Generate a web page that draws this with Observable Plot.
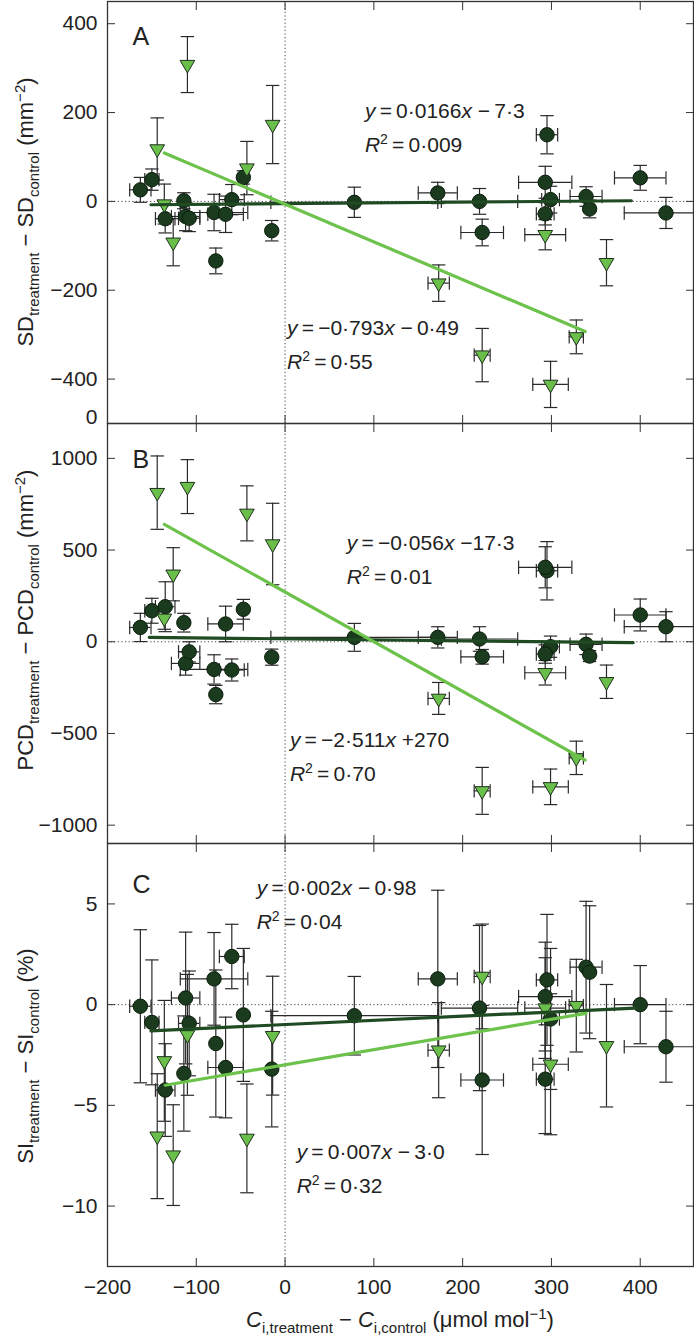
<!DOCTYPE html>
<html><head><meta charset="utf-8">
<script src="https://cdn.jsdelivr.net/npm/d3@7"></script>
<script src="https://cdn.jsdelivr.net/npm/@observablehq/plot@0.6"></script>
<style>
body{margin:0;background:#fff;}
#chart{position:relative;width:694px;height:1339px;font-family:"Liberation Sans",Arial,sans-serif;}
#chart svg{position:absolute;left:0;overflow:visible;}
#chart text{white-space:pre;}
</style></head><body><div id="chart"></div>
<script>
// ---------- data ----------
// dark circles: x (Ci difference) and its error
const darkX  = [-163,-150,-135,-114,-112,-108,-80,-78,-67,-60,-47,-15,78,172,219,222,295,293,299,293,339,343,400,429];
const darkEx = [12,8,11,0,16,12,38,0,20,14,0,0,94,22,43,24,12,30,10,10,18,0,29,47];
// panel A (SD)
const darkA   = [26,49,-39,1.5,-34,-38,-25,-134,-29,4,54,-66,-2,19,0,-70,150,43,4,-28,11,-17,53,-26];
const darkEyA = [28,24,32,18,32,30,41,29,41,34,15,23,34,24,29,30,43,36,30,25,22,20,28,35];
// panel B (PCD)
const darkB   = [78,169,191,104,-118,-55,-151,-288,97,-154,177,-84,24,24,15,-82,387,406,-27,-67,-14,-78,146,82];
const darkEyB = [77,68,136,51,64,55,80,50,97,60,54,44,76,58,67,40,159,112,58,50,56,30,87,82];
// panel C (SI)
const darkC   = [-0.08,-0.88,-4.24,-3.42,0.33,-0.93,1.28,-1.93,-3.12,2.39,-0.51,-3.2,-0.55,1.28,-0.17,-3.74,1.23,0.4,-0.71,-3.7,1.86,1.61,0,-2.09];
const darkEyC = [3.8,3.1,2.3,2.86,3.27,2.6,2.3,3.65,2.5,1.6,3.3,2.87,1.95,4.4,4.1,3.7,3.25,2.7,3.5,2.7,3.27,3.3,1.94,1.76];

// light triangles
const lightX  = [-144,-136,-126,-110,-43,-14,173,222,293,299,328,362];
const lightEx = [0,0,0,0,0,0,12,9,23,20,8,0];
const lightA   = [118,-6,-92,308,75,173,-184,-346,-75,-412,-305,-138];
const lightEyA = [70,45,53,63,60,88,41,60,34,52,38,52];
const lightB   = [813,128,368,846,700,533,-309,-813,-169,-791,-633,-218];
const lightEyB = [200,60,145,147,150,222,87,128,67,97,91,91];
const lightC   = [-6.53,-2.79,-7.47,-1.5,-6.64,-1.54,-2.26,1.4,-0.17,-2.96,-0.05,-2.04];
const lightEyC = [3.1,3.0,2.5,3.0,2.7,2.95,2.36,2.6,2.5,3.5,2.3,3.04];

// regression lines (end points as drawn)
const fitDarkA  = [[-151,-7.5],[390,1.5]];
const fitLightA = [[-136,109],[338,-293]];
const fitDarkB  = [[-153,24],[392,-5]];
const fitLightB = [[-136,640],[338,-645]];
const fitDarkC  = [[-151,-1.3],[394,-0.17]];
const fitLightC = [[-135,-4.0],[339,-0.43]];

// equations
const eqA = [["y\u2009=\u20090·0166x −\u20097·3","R²\u2009=\u20090·009"],["y\u2009=\u2009−0·793x −\u20090·49","R²\u2009=\u20090·55"]];
const eqB = [["y\u2009=\u2009−0·056x −17·3","R²\u2009=\u20090·01"],["y\u2009=\u2009−2·511x +270","R²\u2009=\u20090·70"]];
const eqC = [["y\u2009=\u20090·002x −\u20090·98","R²\u2009=\u20090·04"],["y\u2009=\u20090·007x −\u20093·0","R²\u2009=\u20090·32"]];

// ticks
const ticksX = [-200,-100,0,100,200,300,400];
const ticksA = [-400,-200,0,200,400];
const ticksB = [-1000,-500,0,500,1000];
const ticksC = [-10,-5,0,5];

// ---------- drawing ----------
const FONT = "Liberation Sans, Arial, sans-serif";
const INK = "#2a2a2a";
const DARK_FILL = "#1a3b1d", DARK_LINE = "#1f4a22";
const LIGHT_FILL = "#6abf4b", LIGHT_LINE = "#6cc24a";
const fmt = d => (d < 0 ? "\u2212" + Math.abs(d) : String(d));

const hCap = {draw(ctx, size){ const r = Math.sqrt(size/Math.PI); ctx.moveTo(-r,0); ctx.lineTo(r,0); }};
const vCap = {draw(ctx, size){ const r = Math.sqrt(size/Math.PI); ctx.moveTo(0,-r); ctx.lineTo(0,r); }};
const downTri = {draw(ctx, size){ const r = Math.sqrt(size/Math.PI); const w = r*1.05, h = r*1.8;
  ctx.moveTo(-w,-h/3); ctx.lineTo(w,-h/3); ctx.lineTo(0,2*h/3); ctx.closePath(); }};

function errMarks(X, EX, Y, EY) {
  const idx = d3.range(X.length);
  const hidx = idx.filter(i => EX[i] > 0);
  const s = {stroke: INK, strokeWidth: 1.2};
  return [
    Plot.ruleX(idx, {x: i=>X[i], y1: i=>Y[i]-EY[i], y2: i=>Y[i]+EY[i], ...s}),
    Plot.dot(idx, {x: i=>X[i], y: i=>Y[i]+EY[i], symbol: hCap, r: 6.7, fill: "none", ...s}),
    Plot.dot(idx, {x: i=>X[i], y: i=>Y[i]-EY[i], symbol: hCap, r: 6.7, fill: "none", ...s}),
    Plot.ruleY(hidx, {y: i=>Y[i], x1: i=>X[i]-EX[i], x2: i=>X[i]+EX[i], clip: true, ...s}),
    Plot.dot(hidx, {x: i=>X[i]-EX[i], y: i=>Y[i], symbol: vCap, r: 6.7, fill: "none", clip: true, ...s}),
    Plot.dot(hidx, {x: i=>X[i]+EX[i], y: i=>Y[i], symbol: vCap, r: 6.7, fill: "none", clip: true, ...s})
  ];
}

function panel(cfg) {
  const idxD = d3.range(darkX.length), idxL = d3.range(lightX.length);
  const marks = [
    Plot.ruleX([0], {stroke: "#444", strokeWidth: 1, strokeDasharray: "1.2,2.4"}),
    Plot.ruleY([0], {stroke: "#444", strokeWidth: 1, strokeDasharray: "1.2,2.4"}),
    ...errMarks(darkX, darkEx, cfg.dY, cfg.dEy),
    ...errMarks(lightX, lightEx, cfg.lY, cfg.lEy),
    Plot.dot(idxD, {x: i=>darkX[i], y: i=>cfg.dY[i], r: 7.2, fill: DARK_FILL, stroke: "#0c1c0d", strokeWidth: 1}),
    Plot.dot(idxL, {x: i=>lightX[i], y: i=>cfg.lY[i], symbol: downTri, r: 7, fill: LIGHT_FILL, stroke: "#203020", strokeWidth: 1}),
    Plot.line(cfg.fitD, {x: d=>d[0], y: d=>d[1], stroke: DARK_LINE, strokeWidth: 3.2}),
    Plot.line(cfg.fitL, {x: d=>d[0], y: d=>d[1], stroke: LIGHT_LINE, strokeWidth: 3.2}),
    Plot.frame({stroke: "#333", strokeWidth: 1.3}),
    Plot.axisY({ticks: cfg.ticks, anchor: "left", tickSize: -8, tickPadding: 18, tickFormat: fmt, label: null, fontSize: 21, stroke: "#333", fill: "#222"}),
    Plot.axisY({ticks: cfg.ticks, anchor: "right", tickSize: -8, fill: "none", label: null, stroke: "#333"}),
    Plot.axisX({ticks: ticksX, anchor: "top", tickSize: -8, fill: "none", label: null, stroke: "#333"}),
    cfg.showX
      ? Plot.axisX({ticks: ticksX, anchor: "bottom", tickSize: -8, tickPadding: 21, tickFormat: fmt, label: null, fontSize: 21, stroke: "#333", fill: "#222"})
      : Plot.axisX({ticks: ticksX, anchor: "bottom", tickSize: -8, fill: "none", label: null, stroke: "#333"}),
    Plot.text([cfg.letter], {frameAnchor: "top-left", dx: 25, dy: cfg.letterDy, lineAnchor: "top", textAnchor: "start", fontSize: 25, fill: "#222"})
  ];
  if (cfg.extra) marks.push(cfg.extra);
  const svg = Plot.plot({
    width: 694, height: cfg.height,
    marginLeft: 107, marginRight: 1, marginTop: 1, marginBottom: cfg.mb,
    x: {domain: [-200, 460]},
    y: {domain: cfg.domain},
    style: {fontFamily: FONT, fontSize: "21px", color: "#222", background: "transparent", overflow: "visible"},
    marks
  });
  svg.style.top = cfg.top + "px";
  return svg;
}

function rich(parent, segs, x, y, opt) {
  const t = parent.append("text")
    .attr("x", x).attr("y", y)
    .attr("font-family", FONT).attr("font-size", opt.size).attr("fill", "#222")
    .attr("text-anchor", opt.anchor || "start");
  if (opt.transform) t.attr("transform", opt.transform);
  let shift = 0;
  for (const s of segs) {
    const target = s.sub ? opt.subShift : s.sup ? -opt.supShift : 0;
    const ts = t.append("tspan").text(s.t).attr("dy", target - shift);
    shift = target;
    if (s.sub || s.sup) ts.attr("font-size", opt.small);
    if (s.it) ts.attr("font-style", "italic");
  }
  return t;
}

function eqSegs(str) {
  const segs = [];
  for (const c of str) {
    if (c === "x" || c === "y" || c === "R") segs.push({t: c, it: true});
    else if (c === "²") segs.push({t: "2", sup: true});
    else if (segs.length && !segs[segs.length-1].it && !segs[segs.length-1].sup) segs[segs.length-1].t += c;
    else segs.push({t: c});
  }
  return segs;
}

function addEq(svg, lines, xv, yv) {
  const sx = svg.scale("x"), sy = svg.scale("y");
  const g = d3.select(svg);
  const px = sx.apply(xv), py = sy.apply(yv);
  lines.forEach((ln, k) => rich(g, eqSegs(ln), px, py + k*34, {size: 21, small: 14, supShift: 8, subShift: 5}));
}

const chart = document.getElementById("chart");

const svgA = panel({top: 0, height: 424, mb: 1, domain: [-500, 450], ticks: ticksA,
  dY: darkA, dEy: darkEyA, lY: lightA, lEy: lightEyA, fitD: fitDarkA, fitL: fitLightA,
  letter: "A", letterDy: 26,
  extra: Plot.text(["0"], {frameAnchor: "bottom-left", dx: -10, textAnchor: "end", fontSize: 21, fill: "#222"})});
const svgB = panel({top: 422, height: 422, mb: 1, domain: [-1100, 1190], ticks: ticksB,
  dY: darkB, dEy: darkEyB, lY: lightB, lEy: lightEyB, fitD: fitDarkB, fitL: fitLightB,
  letter: "B", letterDy: 27});
const svgC = panel({top: 842, height: 497, mb: 73, domain: [-13, 8], ticks: ticksC,
  dY: darkC, dEy: darkEyC, lY: lightC, lEy: lightEyC, fitD: fitDarkC, fitL: fitLightC,
  letter: "C", letterDy: 32, showX: true});
chart.append(svgA, svgB, svgC);

// equations (anchored in data coordinates)
addEq(svgA, eqA[0], 90.5, 187);
addEq(svgA, eqA[1], 2.7, -302);
addEq(svgB, eqB[0], 70, 498);
addEq(svgB, eqB[1], 6, -575);
addEq(svgC, eqC[0], -31.4, 5.41);
addEq(svgC, eqC[1], 13.6, -7.67);

// y-axis titles
const labOpt = {size: 22, small: 15, subShift: 6, supShift: 8, anchor: "middle"};
function ylab(svg, segs, cy) {
  rich(d3.select(svg), segs, 0, 0, {...labOpt, transform: `translate(33,${cy}) rotate(-90)`});
}
ylab(svgA, [{t:"SD"},{t:"treatment",sub:true},{t:" \u2212 SD"},{t:"control",sub:true},{t:" (mm"},{t:"\u22122",sup:true},{t:")"}], 212);
ylab(svgB, [{t:"PCD"},{t:"treatment",sub:true},{t:" \u2212 PCD"},{t:"control",sub:true},{t:" (mm"},{t:"\u22122",sup:true},{t:")"}], 198);
ylab(svgC, [{t:"SI"},{t:"treatment",sub:true},{t:" \u2212 SI"},{t:"control",sub:true},{t:" (%)"}], 214);

// x-axis title
rich(d3.select(svgC), [{t:"C",it:true},{t:"i,treatment",sub:true},{t:" \u2212 "},{t:"C",it:true},{t:"i,control",sub:true},{t:" (\u03bcmol mol"},{t:"\u22121",sup:true},{t:")"}],
  400, 485, {...labOpt});
</script></body></html>
